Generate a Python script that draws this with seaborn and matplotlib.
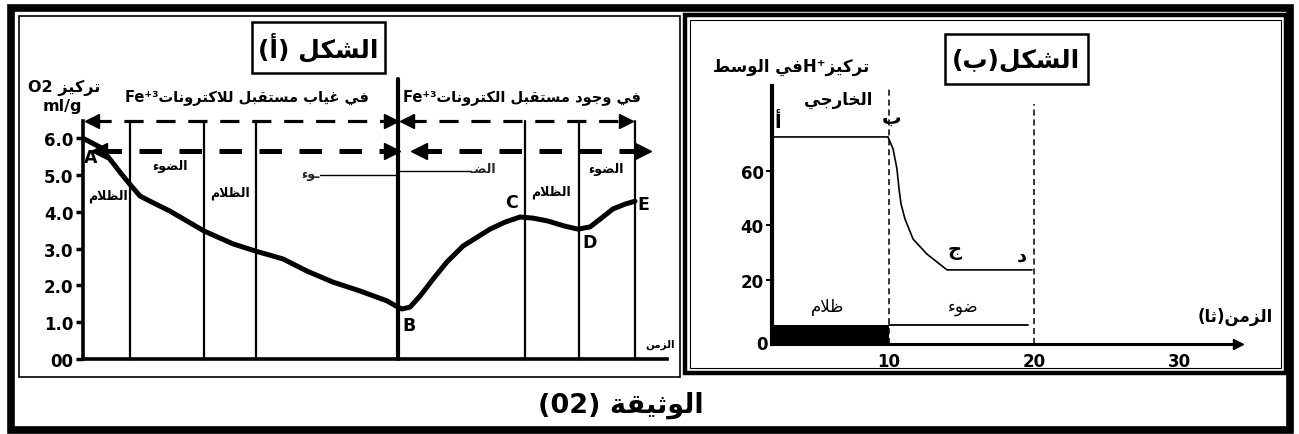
import matplotlib
matplotlib.use("Agg")
import pandas as pd
import seaborn as sns
import matplotlib.pyplot as plt
from matplotlib.patches import Rectangle

# ---------------- DATA ----------------
# figure (A): O2 concentration (ml/g) against time (arbitrary units)
time_a = [0.0, 1.7, 2.7, 3.7, 4.5, 5.7, 6.7, 8.7, 12.1, 15.0, 17.3, 20.0, 22.4, 25.0,
          27.7, 30.4, 31.5, 31.9, 32.7, 33.7, 35.0, 36.4, 38.0, 40.7, 42.2, 43.7,
          45.0, 46.5, 48.2, 49.5, 50.7, 51.7, 53.0, 54.2, 55.2]
o2_a = [6.0, 5.76, 5.43, 5.08, 4.81, 4.43, 4.29, 4.02, 3.48, 3.13, 2.93, 2.72, 2.39, 2.09,
        1.85, 1.58, 1.41, 1.36, 1.41, 1.71, 2.17, 2.64, 3.07, 3.53, 3.72, 3.86,
        3.83, 3.75, 3.61, 3.53, 3.59, 3.80, 4.08, 4.21, 4.29]
edges_a = [4.7, 12.1, 17.3, 31.5, 44.2, 49.6, 55.2]   # light / dark switches
fe_edge = 31.5                                        # Fe+3 added here
xmax_a, ymax_a = 58.4, 6.47
yticks_a = [0, 1, 2, 3, 4, 5, 6]
ylabels_a = ["00", "1.0", "2.0", "3.0", "4.0", "5.0", "6.0"]

# figure (B): H+ concentration in the external medium against time (s)
time_b = [0.0, 9.93, 10.28, 10.55, 10.69, 10.83, 11.1, 11.66, 12.62, 14.0, 19.86]
h_b = [72.5, 72.5, 68.1, 60.7, 53.4, 47.9, 42.4, 35.0, 29.5, 23.7, 23.7]
dark_b = (0, 10)
light_b = (10, 19.6)
xticks_b = [10, 20, 30]
yticks_b = [20, 40, 60]
xlim_b = (1.93, 34.07)
ylim_b = (-3.5, 91.2)

# ---------------- arabic shaping (no bidi lib available) ----------------
AR = {'ء': (0xFE80, 1), 'آ': (0xFE81, 2), 'أ': (0xFE83, 2), 'ؤ': (0xFE85, 2), 'إ': (0xFE87, 2),
      'ئ': (0xFE89, 4), 'ا': (0xFE8D, 2), 'ب': (0xFE8F, 4), 'ة': (0xFE93, 2), 'ت': (0xFE95, 4),
      'ث': (0xFE99, 4), 'ج': (0xFE9D, 4), 'ح': (0xFEA1, 4), 'خ': (0xFEA5, 4), 'د': (0xFEA9, 2),
      'ذ': (0xFEAB, 2), 'ر': (0xFEAD, 2), 'ز': (0xFEAF, 2), 'س': (0xFEB1, 4), 'ش': (0xFEB5, 4),
      'ص': (0xFEB9, 4), 'ض': (0xFEBD, 4), 'ط': (0xFEC1, 4), 'ظ': (0xFEC5, 4), 'ع': (0xFEC9, 4),
      'غ': (0xFECD, 4), 'ف': (0xFED1, 4), 'ق': (0xFED5, 4), 'ك': (0xFED9, 4), 'ل': (0xFEDD, 4),
      'م': (0xFEE1, 4), 'ن': (0xFEE5, 4), 'ه': (0xFEE9, 4), 'و': (0xFEED, 2), 'ى': (0xFEEF, 2),
      'ي': (0xFEF1, 4)}
LAM_ALEF = {'آ': 0xFEF5, 'أ': 0xFEF7, 'إ': 0xFEF9, 'ا': 0xFEFB}


def ar(text):
    """shape arabic letters and put them in visual (left to right) order"""
    units = []
    i = 0
    while i < len(text):
        c = text[i]
        if c == 'ل' and i + 1 < len(text) and text[i + 1] in LAM_ALEF:
            units.append((LAM_ALEF[text[i + 1]], 2))
            i += 2
            continue
        if c in AR:
            units.append(AR[c])
        elif c == 'ـ':
            units.append(('T', 4))
        else:
            units.append((c, 0))
        i += 1
    out = []
    for k, (g, n) in enumerate(units):
        if n == 0:
            out.append(g)
            continue
        if g == 'T':
            out.append('ـ')
            continue
        prev = units[k - 1] if k > 0 else None
        nxt = units[k + 1] if k + 1 < len(units) else None
        jp = prev is not None and prev[1] == 4 and n >= 2
        jn = n == 4 and nxt is not None and nxt[1] >= 2
        if jp and jn:
            out.append(chr(g + 3))
        elif jp:
            out.append(chr(g + 1))
        elif jn:
            out.append(chr(g + 2))
        else:
            out.append(chr(g))
    return ''.join(reversed(out))


# ---------------- FIGURE ----------------
sns.set_theme(style="white")
plt.rcParams['font.family'] = ['DejaVu Sans']
W, H = 1299, 435
fig = plt.figure(figsize=(W / 100, H / 100), dpi=100, facecolor="white")

# overlay in pixel coordinates for frames and labels
ov = fig.add_axes([0, 0, 1, 1], zorder=-1)
ov.set_xlim(0, W)
ov.set_ylim(H, 0)
ov.axis("off")


def txt(x, y, s, size=11, weight="bold", **kw):
    ov.text(x, y, s, fontsize=size, fontweight=weight, ha="center", va="center",
            color="black", **kw)


def box(x0, y0, x1, y1, lw):
    ov.add_patch(Rectangle((x0, y0), x1 - x0, y1 - y0, fill=False, lw=lw, ec="black"))


box(11, 9, 1290, 431, 5.5)        # outer frame
box(19, 17, 680, 378, 1.2)        # panel A
box(685, 16, 1286, 374, 3.2)      # panel B
box(690, 21, 1281, 369, 0.8)

# ---------- panel A ----------
axa = fig.add_axes([83 / W, (H - 360) / H, 584 / W, 238 / H])
axa.set_facecolor("none")
df_a = pd.DataFrame({"time": time_a, "o2": o2_a})
sns.lineplot(data=df_a, x="time", y="o2", ax=axa, color="black", linewidth=3.6,
             solid_capstyle="round", zorder=5)
axa.set_xlim(0, xmax_a)
axa.set_ylim(0, ymax_a)
axa.set_xlabel("")
axa.set_ylabel("")
for s in ["top", "right"]:
    axa.spines[s].set_visible(False)
for s in ["left", "bottom"]:
    axa.spines[s].set_linewidth(2.6)
    axa.spines[s].set_color("black")
axa.set_xticks([])
axa.set_yticks(yticks_a)
axa.set_yticklabels(ylabels_a, fontsize=12, fontweight="bold")
axa.tick_params(axis="y", length=5, width=2.5, pad=2, left=True, colors="black")

for e in edges_a:
    top = 7.61 if e == fe_edge else ymax_a
    axa.plot([e, e], [0, top], color="black", lw=3.0 if e == fe_edge else 1.6,
             clip_on=False, zorder=3)


def dashed_arrow(ax, x0, x1, y, lw, dash, ms):
    ax.plot([x0, x1], [y, y], color="black", lw=lw, linestyle=(0, dash), clip_on=False,
            dash_capstyle="butt")
    ax.plot([x0], [y], marker="<", color="black", ms=ms, clip_on=False, ls="none")
    ax.plot([x1], [y], marker=">", color="black", ms=ms, clip_on=False, ls="none")


dashed_arrow(axa, 0.9, fe_edge - 0.7, ymax_a, 2.3, (6, 4), 10)
dashed_arrow(axa, fe_edge + 0.9, edges_a[-1] - 0.9, ymax_a, 2.3, (6, 4), 10)
dashed_arrow(axa, 1.6, fe_edge - 0.6, 5.65, 3.6, (4.5, 3.5), 11)
dashed_arrow(axa, fe_edge + 2.1, edges_a[-1] + 0.8, 5.65, 3.6, (4.5, 3.5), 11)

txt(318, 48, "(أ) " + ar("الشكل"), size=18)
box(252, 23, 385, 74, 1.8)
txt(64, 88, "O2 " + ar("تركيز"), size=11.5)
txt(62, 107, "ml/g", size=11.5)
txt(247, 97, "Fe⁺³" + ar("في غياب مستقبل للاكترونات"), size=10.5)
txt(522, 97, "Fe⁺³" + ar("في وجود مستقبل الكترونات"), size=10.5)
txt(170, 167, ar("الضوء"), size=9)
txt(108, 196, ar("الظلام"), size=9)
txt(230, 193, ar("الظلام"), size=9)
txt(551, 192, ar("الظلام"), size=9)
txt(606, 170, ar("الضوء"), size=9)
ov.text(320, 175, ar("ـوء"), fontsize=9, fontweight="bold", ha="right", va="center")
ov.plot([320, 398], [175.5, 175.5], color="black", lw=1.0)
ov.plot([398, 471], [172, 172], color="black", lw=1.0)
ov.text(470, 170, ar("الضـ"), fontsize=9, fontweight="bold", ha="left", va="center")
for lab, x, y in [("A", 91, 158), ("B", 409, 326), ("C", 512, 203), ("D", 590, 243), ("E", 643, 205)]:
    txt(x, y, lab, size=12.5)
txt(660, 345, ar("الزمن"), size=7.5)

# ---------- panel B ----------
axb = fig.add_axes([772 / W, (H - 345) / H, 466 / W, 258 / H])
axb.set_facecolor("none")
df_b = pd.DataFrame({"time": time_b, "h": h_b})
sns.lineplot(data=df_b, x="time", y="h", ax=axb, color="black", linewidth=1.2, zorder=5)
axb.set_xlim(*xlim_b)
axb.set_ylim(*ylim_b)
axb.set_xlabel("")
axb.set_ylabel("")
for s in ["top", "right"]:
    axb.spines[s].set_visible(False)
axb.spines["left"].set_linewidth(3.0)
axb.spines["bottom"].set_linewidth(2.2)
for s in ["left", "bottom"]:
    axb.spines[s].set_color("black")
axb.plot([xlim_b[1]], [ylim_b[0]], marker=">", color="black", ms=7, clip_on=False)
axb.set_yticks(yticks_b)
axb.set_yticklabels([str(v) for v in yticks_b], fontsize=12, fontweight="bold")
axb.set_xticks(xticks_b)
axb.set_xticklabels([str(v) for v in xticks_b], fontsize=12, fontweight="bold")
axb.tick_params(axis="y", length=4, width=1.5, pad=2, left=True, colors="black")
axb.tick_params(axis="x", length=0, pad=6, colors="black")

axb.fill_between(dark_b, ylim_b[0], 3.5, color="black", lw=0)
axb.plot(light_b, [3.5, 3.5], color="black", lw=1.3)
axb.plot([10, 10], [ylim_b[0], ylim_b[1]], color="black", lw=1.1, ls=(0, (4, 2.5)), clip_on=False)
axb.plot([20, 20], [ylim_b[0], 84.6], color="black", lw=1.1, ls=(0, (4, 2.5)), clip_on=False)

txt(1016, 60, "(ب)" + ar("الشكل"), size=18)
box(945, 35, 1088, 85, 1.8)
txt(791, 67, ar("في الوسط") + "H⁺" + ar("تركيز"), size=12)
txt(838, 100, ar("الخارجي"), size=12)
txt(762, 345, "0", size=12)
for lab, x, y in [("أ", 778, 123), ("ب", 892, 118), ("ج", 955, 250), ("د", 1022, 256)]:
    txt(x, y, lab, size=14)
txt(828, 307, ar("ظلام"), size=12, weight="normal")
txt(963, 307, ar("ضوء"), size=12, weight="normal")
txt(1235, 317, "(" + ar("ثا") + ")" + ar("الزمن"), size=12)

txt(621, 405, "(02) " + ar("الوثيقة"), size=19.5)

fig.savefig("out.png", dpi=100, facecolor="white")
